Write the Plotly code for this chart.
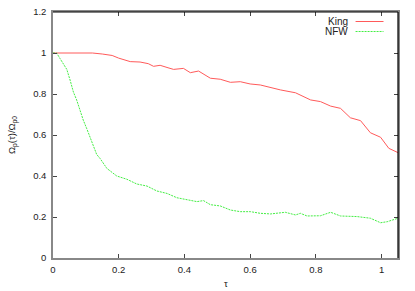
import plotly.graph_objects as go

king_tau = [0, 0.03, 0.06, 0.09, 0.12, 0.15, 0.18, 0.20, 0.235, 0.265, 0.29, 0.306, 0.326, 0.35,
            0.367, 0.397, 0.418, 0.443, 0.479, 0.509, 0.54, 0.57, 0.60, 0.631, 0.662, 0.692, 0.738,
            0.76, 0.784, 0.814, 0.845, 0.875, 0.905, 0.936, 0.966, 0.997, 1.022, 1.05]
king_val = [1.0, 1.0, 1.003, 1.0, 1.0, 0.995, 0.988, 0.975, 0.958, 0.956, 0.948, 0.935, 0.940, 0.928,
            0.920, 0.925, 0.904, 0.912, 0.877, 0.872, 0.857, 0.860, 0.849, 0.844, 0.831, 0.820, 0.806,
            0.79, 0.771, 0.763, 0.741, 0.730, 0.684, 0.670, 0.611, 0.589, 0.535, 0.514]

nfw_tau = [0, 0.011, 0.021, 0.031, 0.042, 0.052, 0.062, 0.072, 0.082, 0.092, 0.103, 0.113, 0.123,
           0.133, 0.143, 0.164, 0.194, 0.225, 0.255, 0.286, 0.316, 0.347, 0.377, 0.408, 0.438, 0.458,
           0.479, 0.509, 0.540, 0.570, 0.601, 0.631, 0.662, 0.707, 0.738, 0.753, 0.773, 0.814, 0.845,
           0.875, 0.926, 0.966, 0.997, 1.017, 1.05]
nfw_val = [1.0, 1.0, 0.974, 0.95, 0.92, 0.868, 0.81, 0.771, 0.72, 0.673, 0.63, 0.585, 0.54,
           0.505, 0.486, 0.437, 0.400, 0.384, 0.361, 0.351, 0.327, 0.315, 0.294, 0.283, 0.275, 0.280,
           0.260, 0.254, 0.234, 0.226, 0.226, 0.218, 0.215, 0.223, 0.210, 0.218, 0.205, 0.206, 0.223,
           0.205, 0.202, 0.194, 0.172, 0.177, 0.194]

x_ticks = [0, 0.2, 0.4, 0.6, 0.8, 1]
x_labels = ["0", "0.2", "0.4", "0.6", "0.8", "1"]
y_ticks = [0, 0.2, 0.4, 0.6, 0.8, 1, 1.2]
y_labels = ["0", "0.2", "0.4", "0.6", "0.8", "1", "1.2"]

RED = "#ff5a5a"
GREEN = "#44ee44"
FONT = "Liberation Sans, Arial, sans-serif"
FS = 9.5
PLOT_W = 415 - 53 - 17
PLOT_H = 291 - 12 - 33

fig = go.Figure()
fig.add_trace(go.Scatter(x=king_tau, y=king_val, mode="lines", name="King",
                         line=dict(color=RED, width=1), showlegend=False))
fig.add_trace(go.Scatter(x=nfw_tau, y=nfw_val, mode="lines", name="NFW",
                         line=dict(color=GREEN, width=1, dash="2px,1px"), showlegend=False))

axis_common = dict(showgrid=False, zeroline=False, ticks="inside", ticklen=4, tickcolor="#444",
                   showline=True, linecolor="#888", linewidth=1.5, mirror="ticks", automargin=False,
                   tickfont=dict(family=FONT, size=FS, color="#222"))
fig.update_xaxes(range=[0, 1.05], tickvals=x_ticks, ticktext=x_labels, ticklabelstandoff=2,
                 **axis_common)
fig.update_yaxes(range=[0, 1.2], tickvals=y_ticks, ticktext=y_labels, ticklabelstandoff=3,
                 **axis_common)

# axis titles
fig.add_annotation(xref="paper", yref="paper", x=0.5, y=-(283 - 258) / PLOT_H, text="τ",
                   showarrow=False, xanchor="center", yanchor="middle",
                   font=dict(family=FONT, size=FS, color="#222"))
fig.add_annotation(xref="paper", yref="paper", x=-(53 - 12) / PLOT_W, y=0.5,
                   text="Ω<sub>p</sub>(τ)/Ω<sub>p0</sub>", textangle=-90,
                   showarrow=False, xanchor="center", yanchor="middle",
                   font=dict(family=FONT, size=FS, color="#222"))

# black top/right border
fig.add_shape(type="line", xref="paper", yref="paper", x0=0, x1=1, y0=1, y1=1,
              line=dict(color="black", width=1.2))
fig.add_shape(type="line", xref="paper", yref="paper", x0=1, x1=1, y0=0, y1=1,
              line=dict(color="black", width=1.2))

# legend (gnuplot style: text then sample)
legend_items = [("King", RED, "solid"), ("NFW", GREEN, "2px,1px")]
for i, (name, color, dash) in enumerate(legend_items):
    yp = 1 - (9.5 + 10 * i) / PLOT_H
    fig.add_annotation(xref="paper", yref="paper", x=0.862, y=yp, text=name, showarrow=False,
                       xanchor="right", yanchor="middle",
                       font=dict(family=FONT, size=FS + 0.5, color="#222"))
    fig.add_shape(type="line", xref="paper", yref="paper", x0=0.877, x1=0.958, y0=yp, y1=yp,
                  line=dict(color=color, width=1, dash=dash))

fig.update_layout(width=415, height=291, margin=dict(l=53, r=17, t=12, b=33),
                  plot_bgcolor="white", paper_bgcolor="white")

fig.write_html("out.html", config={"displayModeBar": False},
               post_script="document.body.style.margin='0';document.body.style.overflow='hidden';")
